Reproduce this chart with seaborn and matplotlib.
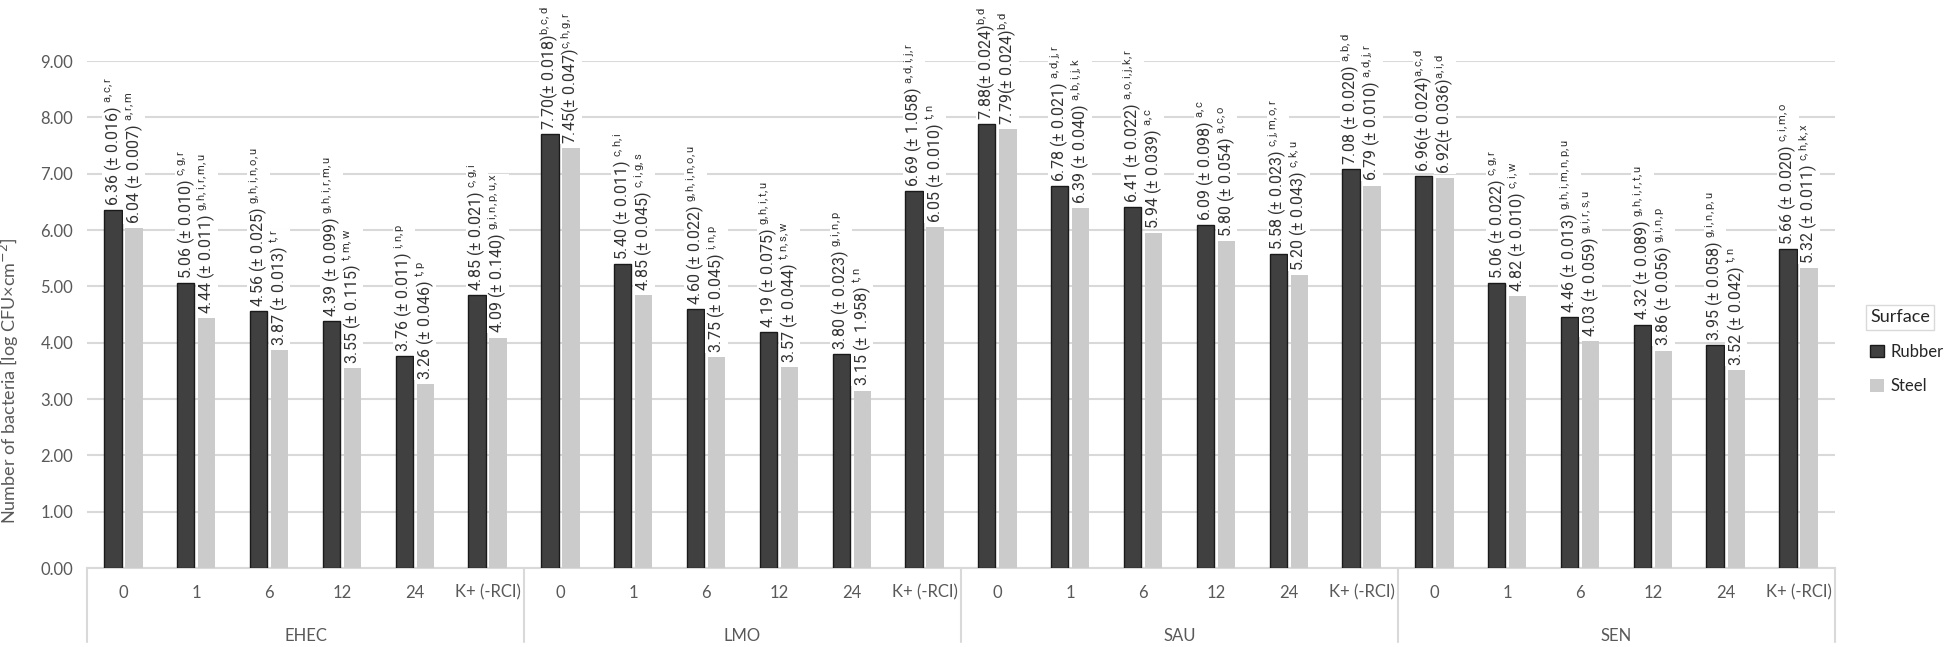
import numpy as np
import pandas as pd
import matplotlib
matplotlib.use("Agg")
import matplotlib.pyplot as plt
import seaborn as sns
from matplotlib.patches import Patch
from matplotlib.transforms import blended_transform_factory

#%% Data

bacteria = ["EHEC", "LMO", "SAU", "SEN"]
times = ["0", "1", "6", "12", "24", "K+ (-RCI)"]

rubber = [6.36, 5.06, 4.56, 4.39, 3.76, 4.85,
          7.70, 5.40, 4.60, 4.19, 3.80, 6.69,
          7.88, 6.78, 6.41, 6.09, 5.58, 7.08,
          6.96, 5.06, 4.46, 4.32, 3.95, 5.66]
steel = [6.04, 4.44, 3.87, 3.55, 3.26, 4.09,
         7.45, 4.85, 3.75, 3.57, 3.15, 6.05,
         7.79, 6.39, 5.94, 5.80, 5.20, 6.79,
         6.92, 4.82, 4.03, 3.86, 3.52, 5.32]

rubber_sd = ["0.016", "0.010", "0.025", "0.099", "0.011", "0.021",
             "0.018", "0.011", "0.022", "0.075", "0.023", "1.058",
             "0.024", "0.021", "0.022", "0.098", "0.023", "0.020",
             "0.024", "0.022", "0.013", "0.089", "0.058", "0.020"]
steel_sd = ["0.007", "0.011", "0.013", "0.115", "0.046", "0.140",
            "0.047", "0.045", "0.045", "0.044", "1.958", "0.010",
            "0.024", "0.040", "0.039", "0.054", "0.043", "0.010",
            "0.036", "0.010", "0.059", "0.056", "0.042", "0.011"]

rubber_sup = ["a,c,r", "c,g,r", "g,h,i,n,o,u", "g,h,i,r,m,u", "i,n,p", "c,g,i",
              "b,c,d", "c,h,i", "g,h,i,n,o,u", "g,h,i,t,u", "g,i,n,p", "a,d,i,j,r",
              "b,d", "a,d,j,r", "a,o,i,j,k,r", "a,c", "c,j,m,o,r", "a,b,d",
              "a,c,d", "c,g,r", "g,h,i,m,n,p,u", "g,h,i,r,t,u", "g,i,n,p,u", "c,i,m,o"]
steel_sup = ["a,r,m", "g,h,i,r,m,u", "t,r", "t,m,w", "t,p", "g,i,n,p,u,x",
             "c,h,g,r", "c,i,g,s", "i,n,p", "t,n,s,w", "t,n", "t,n",
             "b,d", "a,b,i,j,k", "a,c", "a,c,o", "c,k,u", "a,d,j,r",
             "a,i,d", "c,i,w", "g,i,r,s,u", "g,i,n,p", "t,n", "c,h,k,x"]

# these labels are written without spaces in the original
compact = [6, 12, 18]

keys = [b + "|" + t for b in bacteria for t in times]
df = pd.DataFrame({
    "key": keys * 2,
    "Surface": ["Rubber"] * len(keys) + ["Steel"] * len(keys),
    "value": rubber + steel,
})

#%% Plot

sns.set_theme(style="white")
plt.rcParams["font.family"] = ["Lato", "DejaVu Sans"]
plt.rcParams["mathtext.fontset"] = "custom"

dark = "#404040"
light = "#cbcbcb"
grey_txt = "#595959"
grid_c = "#d9d9d9"

fig = plt.figure(figsize=(19.55, 6.47), dpi=100)
ax = fig.add_axes([0.0445, 0.1221, 0.8941, 0.7836])

sns.barplot(data=df, x="key", y="value", hue="Surface", order=keys,
            palette={"Rubber": dark, "Steel": light}, width=0.58, gap=0.18,
            ax=ax, legend=False, zorder=3)

for bar in ax.containers[0]:
    bar.set_edgecolor("#1a1a1a")
    bar.set_linewidth(1.0)
for bar in ax.containers[1]:
    bar.set_edgecolor("none")

ax.set_ylim(0, 9)
ax.set_xlim(-0.5, len(keys) - 0.5)
ax.set_yticks(np.arange(0, 10, 1))
ax.set_yticklabels([f"{v:.2f}" for v in np.arange(0, 10, 1)], color=grey_txt, fontsize=12)
ax.yaxis.grid(True, color=grid_c, lw=1.5, zorder=0)
ax.set_axisbelow(True)
ax.tick_params(axis="both", length=0, pad=10)
for s in ["top", "right", "left"]:
    ax.spines[s].set_visible(False)
ax.spines["bottom"].set_color(grid_c)
ax.spines["bottom"].set_linewidth(1.5)

ax.set_xticks(range(len(keys)))
ax.set_xticklabels([k.split("|")[1] for k in keys], color=grey_txt, fontsize=12)
ax.tick_params(axis="x", pad=12)
ax.set_xlabel("")
ax.set_ylabel("Number of bacteria [log CFU×cm$^{-2}$]", color=grey_txt, fontsize=13)
ax.yaxis.set_label_coords(-0.038, 0.37)

# multi-level category axis
trans = blended_transform_factory(ax.transData, ax.transAxes)
n = len(times)
for i in range(len(bacteria) + 1):
    xb = i * n - 0.5
    ax.plot([xb, xb], [0, -0.146], transform=trans, color=grid_c, lw=1.5, clip_on=False)
for i, b in enumerate(bacteria):
    ax.text(i * n + (n - 1) / 2, -0.135, b, transform=trans, ha="center", va="center",
            color=grey_txt, fontsize=12)

# value labels
ann_font = ["Roboto", "DejaVu Sans"]
for j, (cont, vals, sds, sups) in enumerate([(ax.containers[0], rubber, rubber_sd, rubber_sup),
                                             (ax.containers[1], steel, steel_sd, steel_sup)]):
    for i, bar in enumerate(cont):
        if i in compact:
            label = f"{vals[i]:.2f}(± {sds[i]})" + r"${}^{\mathregular{" + sups[i] + "}}$"
        else:
            label = f"{vals[i]:.2f} (± {sds[i]}) " + r"${}^{\mathregular{" + sups[i] + "}}$"
        ax.annotate(label, (bar.get_x() + bar.get_width() / 2, bar.get_height()),
                    xytext=(0, 3), textcoords="offset points", rotation=90,
                    ha="center", va="bottom", fontsize=11.5, family=ann_font,
                    color="#333333", annotation_clip=False, zorder=4,
                    bbox=dict(facecolor="white", edgecolor="none", pad=0.0))

# legend
handles = [Patch(facecolor=dark, edgecolor="#1a1a1a", label="Rubber"),
           Patch(facecolor=light, edgecolor="none", label="Steel")]
leg = fig.legend(handles=handles, title="Surface", loc="upper left",
                 bbox_to_anchor=(0.949, 0.545), frameon=False, fontsize=12,
                 title_fontsize=13, handlelength=0.8, handleheight=0.8,
                 handletextpad=0.4, labelspacing=1.1, alignment="left")
leg.get_title().set_bbox(dict(facecolor="white", edgecolor=grid_c, pad=3))
for t in leg.get_texts():
    t.set_color("#262626")

fig.savefig("out.png", dpi=100)
